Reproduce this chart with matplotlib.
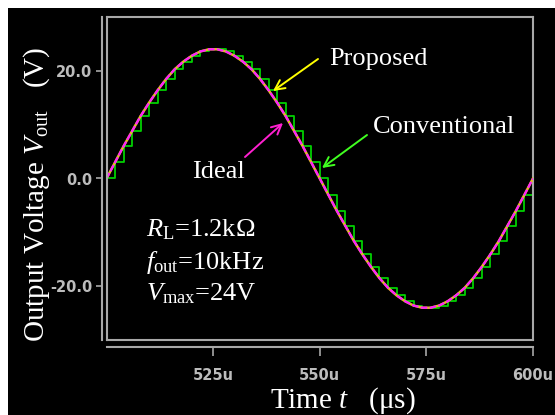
import matplotlib
matplotlib.use("Agg")
import matplotlib.pyplot as plt
from matplotlib.patches import Rectangle

# sample instants (us) and output voltage at each instant (V)
T_SAMPLE_US = list(range(498, 601, 2))
V_SAMPLE = [-3.0, 0.0, 3.0, 6.0, 8.8, 11.6, 14.1, 16.4, 18.5, 20.3, 21.7, 22.8, 23.6,
            24.0, 24.0, 23.6, 22.8, 21.7, 20.3, 18.5, 16.4, 14.1, 11.6, 8.8, 6.0, 3.0,
            0.0, -3.0, -6.0, -8.8, -11.6, -14.1, -16.4, -18.5, -20.3, -21.7, -22.8,
            -23.6, -24.0, -24.0, -23.6, -22.8, -21.7, -20.3, -18.5, -16.4, -14.1,
            -11.6, -8.8, -6.0, -3.0, 0.0]
XTICKS = [525, 550, 575, 600]
XTICK_LABELS = ["525u", "550u", "575u", "600u"]
YTICKS = [-20, 0, 20]
YTICK_LABELS = ["-20.0", "0.0", "20.0"]
PARAM_LINES = [r"$R_\mathrm{L}$=1.2kΩ", r"$f_\mathrm{out}$=10kHz", r"$V_\mathrm{max}$=24V"]

W, H = 555, 415
GRAY = "#a8a8a8"
TICKC = "#bcbcbc"

plt.rcParams["mathtext.fontset"] = "custom"
plt.rcParams["mathtext.rm"] = "Liberation Serif"
plt.rcParams["mathtext.it"] = "Liberation Serif:italic"
SERIF = "Liberation Serif"

fig = plt.figure(figsize=(W / 100, H / 100), dpi=100, facecolor="white")
fig.patches.append(Rectangle((8 / W, 0), 1, (H - 8) / H, transform=fig.transFigure,
                             facecolor="black", edgecolor="none", zorder=-10))


def px(x0, y0, x1, y1):
    return [x0 / W, 1 - y1 / H, (x1 - x0) / W, (y1 - y0) / H]


ax = fig.add_axes(px(106.5, 17, 533, 340))
ax.set_facecolor("black")

ax.step(T_SAMPLE_US, V_SAMPLE, where="post", color="#00d000", lw=1.3, zorder=2)
ax.plot(T_SAMPLE_US, V_SAMPLE, color="#e0c020", lw=1.8, zorder=3)
ax.plot(T_SAMPLE_US, V_SAMPLE, color="#ff20ff", lw=1.6, ls=(0, (3, 1)), zorder=4)

ax.set_xlim(500, 600)
ax.set_ylim(-30, 30)

for s in ["top", "right"]:
    ax.spines[s].set_color(GRAY)
    ax.spines[s].set_linewidth(1.5)
ax.spines["left"].set_position(("outward", 3))
ax.spines["left"].set_color(GRAY)
ax.spines["left"].set_linewidth(1.5)
ax.spines["bottom"].set_position(("outward", 5))
ax.spines["bottom"].set_color(GRAY)
ax.spines["bottom"].set_linewidth(1.5)
ax.plot([0, 0], [0, 1], transform=ax.transAxes, color=GRAY, lw=1.5, clip_on=False, zorder=5)
ax.plot([0, 1], [0, 0], transform=ax.transAxes, color=GRAY, lw=1.5, clip_on=False, zorder=5)

ax.set_xticks(XTICKS)
ax.set_xticklabels(XTICK_LABELS)
ax.set_yticks(YTICKS)
ax.set_yticklabels(YTICK_LABELS)
ax.tick_params(axis="x", direction="out", length=6.5, width=1.2, color=GRAY,
               labelcolor=TICKC, pad=9, labelsize=10.5)
ax.tick_params(axis="y", direction="out", length=4.3, width=1.2, color=GRAY,
               labelcolor=TICKC, pad=3, labelsize=10.5)
for lab in ax.get_xticklabels() + ax.get_yticklabels():
    lab.set_fontweight("bold")
    lab.set_family("DejaVu Sans")

fig.text(37 / W, 1 - 194 / H, r"Output Voltage $V_\mathrm{out}$   (V)", rotation=90,
         ha="center", va="center", color="white", family=SERIF, fontsize=21)
fig.text(343 / W, 1 - 401 / H, r"Time $t$   (μs)", ha="center", va="center",
         color="white", family=SERIF, fontsize=21)

ARROW = "->,head_length=0.7,head_width=0.35"
ax.annotate("", xy=(273, H - 91), xycoords="figure pixels", xytext=(318, H - 59),
            textcoords="figure pixels",
            arrowprops=dict(arrowstyle=ARROW, color="#ffff00", lw=1.4, shrinkA=0, shrinkB=0))
ax.annotate("", xy=(322, H - 168), xycoords="figure pixels", xytext=(367, H - 135),
            textcoords="figure pixels",
            arrowprops=dict(arrowstyle=ARROW, color="#40ff20", lw=1.4, shrinkA=0, shrinkB=0))
ax.annotate("", xy=(283, H - 123), xycoords="figure pixels", xytext=(245, H - 157),
            textcoords="figure pixels",
            arrowprops=dict(arrowstyle=ARROW, color="#ff20d0", lw=1.4, shrinkA=0, shrinkB=0))
fig.text(329 / W, 1 - 59 / H, "Proposed", color="white", family=SERIF, fontsize=19,
         ha="left", va="center")
fig.text(373 / W, 1 - 127 / H, "Conventional", color="white", family=SERIF, fontsize=19,
         ha="left", va="center")
fig.text(192 / W, 1 - 172 / H, "Ideal", color="white", family=SERIF, fontsize=19,
         ha="left", va="center")

for i, line in enumerate(PARAM_LINES):
    fig.text(146 / W, 1 - (230 + 32 * i) / H, line, color="white", family=SERIF,
             fontsize=19, ha="left", va="center")

fig.savefig("out.png", dpi=100, facecolor=fig.get_facecolor())
